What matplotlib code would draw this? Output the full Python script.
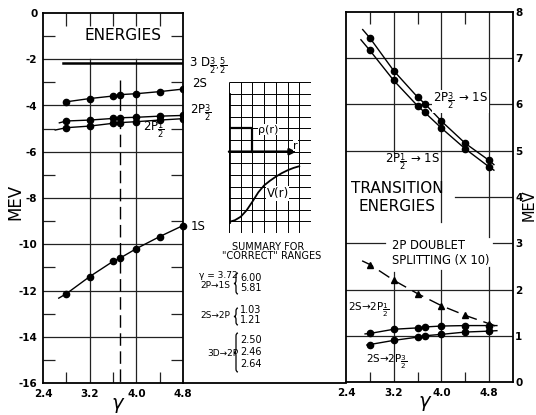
import matplotlib
matplotlib.use('Agg')
import matplotlib.pyplot as plt
from matplotlib.lines import Line2D
from matplotlib.path import Path
from matplotlib.patches import PathPatch
from matplotlib.transforms import Affine2D

W, H = 536, 415

# gamma values of the calculation
gamma = [2.8, 3.2, 3.6, 3.72, 4.0, 4.4, 4.8]
gamma_split = [2.8, 3.2, 3.6, 4.0, 4.4, 4.8]
gamma_c = 3.72

# level energies in MEV (left panel)
e_2s = [-3.84, -3.70, -3.59, -3.53, -3.49, -3.40, -3.29]
e_2p32 = [-4.67, -4.63, -4.56, -4.53, -4.51, -4.46, -4.43]
e_2p12 = [-4.96, -4.89, -4.77, -4.74, -4.70, -4.63, -4.57]
e_1s = [-12.14, -11.40, -10.74, -10.60, -10.19, -9.67, -9.19]
e_3d = -2.17
e_3d_span = [2.75, 4.8]
# start of the drawn curves (left of the first point)
lead_2p32 = (2.68, -4.75)
lead_2p12 = (2.61, -5.06)
lead_1s = (2.67, -12.33)

# transition energies in MEV (right panel)
t_2p32_1s = [7.44, 6.73, 6.16, 6.02, 5.64, 5.16, 4.79]
t_2p12_1s = [7.17, 6.52, 5.97, 5.83, 5.49, 5.04, 4.65]
t_2s_2p12 = [1.05, 1.14, 1.17, 1.19, 1.21, 1.22, 1.22]
t_2s_2p32 = [0.81, 0.90, 0.97, 1.00, 1.03, 1.08, 1.10]
split_x10 = [2.54, 2.20, 1.91, 1.65, 1.44, 1.26]
# curve ends (start, end)
ends_2p32_1s = [(2.68, 7.62), (4.88, 4.70)]
ends_2p12_1s = [(2.65, 7.40), (4.88, 4.58)]
ends_2s_2p12 = [(2.72, 1.04), (4.93, 1.22)]
ends_2s_2p32 = [(2.75, 0.80), (4.93, 1.11)]
ends_split = [(2.67, 2.62), (5.0, 1.17)]

# inset sketch (grid units)
rho_r = [0, 2, 2]
rho_v = [9, 9, 7]
v_r = [0, 0.5, 1.0, 1.5, 2.0, 2.5, 3.0, 3.5, 4.0, 4.5, 5.0, 5.5, 6.0]
v_v = [0.95, 1.1, 1.4, 1.95, 2.7, 3.5, 4.1, 4.5, 4.85, 5.15, 5.4, 5.6, 5.75]

# summary for "correct" ranges
summary_names = ['2P→1S', '2S→2P', '3D→2P']
summary_vals = [['6.00', '5.81'], ['1.03', '1.21'], ['2.50', '2.46', '2.64']]

GRID = dict(color='#222222', lw=0.9)


def box(x0, y0, x1, y1):
    return [x0 / W, 1 - y1 / H, (x1 - x0) / W, (y1 - y0) / H]


def ftext(x, y, s, **kw):
    kw.setdefault('va', 'center')
    return fig.text(x / W, 1 - y / H, s, **kw)


fig = plt.figure(figsize=(W / 100, H / 100), dpi=100)
px = Affine2D().scale(1 / W, -1 / H).translate(0, 1) + fig.transFigure


def brace(x, y0, y1, w=4.0):
    ym = (y0 + y1) / 2
    r = 3.0
    verts = [(x + w, y0), (x + w / 2, y0), (x + w / 2, y0 + r),
             (x + w / 2, ym - r),
             (x + w / 2, ym), (x, ym),
             (x + w / 2, ym), (x + w / 2, ym + r),
             (x + w / 2, y1 - r),
             (x + w / 2, y1), (x + w, y1)]
    codes = [Path.MOVETO, Path.CURVE3, Path.CURVE3, Path.LINETO,
             Path.CURVE3, Path.CURVE3, Path.CURVE3, Path.CURVE3,
             Path.LINETO, Path.CURVE3, Path.CURVE3]
    fig.add_artist(PathPatch(Path(verts, codes), transform=px,
                             facecolor='none', edgecolor='k', lw=0.9))


# ---------------- left panel: energies ----------------
ax1 = fig.add_axes(box(43, 13, 183, 383))
ax1.set_xlim(2.4, 4.8)
ax1.set_ylim(-16, 0)
for v in range(-14, 0, 2):
    ax1.plot([2.4, 4.8], [v, v], **GRID)
for g in [3.2, 4.0]:
    ax1.plot([g, g], [-2, -16], **GRID)
xt = ax1.get_xaxis_transform()
ax1.vlines([2.8, 3.2, 3.6, 4.0, 4.4], 1 - 13 / 370, 1, transform=xt, **GRID)
ax1.vlines([2.8, 3.6, 4.4], 0, 11 / 370, transform=xt, **GRID)
yt = ax1.get_yaxis_transform()
odd = list(range(-15, 0, 2))
ax1.hlines(odd, 0, 12 / 140, transform=yt, **GRID)
ax1.hlines(odd, 1 - 12 / 140, 1, transform=yt, **GRID)
ax1.plot([gamma_c, gamma_c], [-2.9, -16], color='k', lw=1.0, dashes=(9, 4))

ax1.plot(e_3d_span, [e_3d, e_3d], color='k', lw=1.8)
ax1.plot(gamma, e_2s, 'k-o', lw=1.0, ms=4.5)
ax1.plot([lead_2p32[0]] + gamma, [lead_2p32[1]] + e_2p32, 'k-', lw=1.0)
ax1.plot(gamma, e_2p32, 'ko', ms=4.5)
ax1.plot([lead_2p12[0]] + gamma, [lead_2p12[1]] + e_2p12, 'k-', lw=1.0)
ax1.plot(gamma, e_2p12, 'ko', ms=4.5)
ax1.plot([lead_1s[0]] + gamma, [lead_1s[1]] + e_1s, 'k-', lw=1.0)
ax1.plot(gamma, e_1s, 'ko', ms=4.5, clip_on=False)

ax1.set_xticks([2.4, 3.2, 4.0, 4.8])
ax1.set_xticklabels(['2.4', '3.2', '4.0', '4.8'])
ax1.set_yticks(range(-16, 1, 2))
ax1.set_yticklabels([str(v) for v in range(-16, 1, 2)])
ax1.tick_params(length=0, labelsize=7.5, pad=4)
for lab in ax1.get_xticklabels() + ax1.get_yticklabels():
    lab.set_fontweight('bold')
for sp in ax1.spines.values():
    sp.set_linewidth(1.3)

# ---------------- right panel: transition energies ----------------
ax2 = fig.add_axes(box(346, 12, 513, 382))
ax2.set_xlim(2.4, 5.2)
ax2.set_ylim(0, 8)
h_segments = [(7, 2.4, 5.2), (6, 2.4, 5.2), (5, 2.4, 5.2), (4, 4.23, 5.2),
              (3, 2.4, 3.05), (3, 4.87, 5.2), (2, 2.4, 5.2), (1, 2.4, 5.2)]
for v, a, b in h_segments:
    ax2.plot([a, b], [v, v], **GRID)
v_segments = [(3.2, 8, 4.95), (3.2, 2.38, 0), (4.0, 8, 3.46), (4.0, 2.42, 0),
              (4.8, 8, 3.14), (4.8, 2.49, 0)]
for g, a, b in v_segments:
    ax2.plot([g, g], [a, b], **GRID)
xt2 = ax2.get_xaxis_transform()
ax2.vlines([2.8, 3.6, 4.4], 1 - 12 / 370, 1, transform=xt2, **GRID)
ax2.vlines([2.8, 3.6, 4.4], 0, 10 / 370, transform=xt2, **GRID)


def curve(ax, xs, ys, ends, **kw):
    (x0, y0), (x1, y1) = ends
    ax.plot([x0] + xs + [x1], [y0] + ys + [y1], color='k', lw=1.0, **kw)


curve(ax2, gamma, t_2p32_1s, ends_2p32_1s)
curve(ax2, gamma, t_2p12_1s, ends_2p12_1s)
curve(ax2, gamma, t_2s_2p12, ends_2s_2p12)
curve(ax2, gamma, t_2s_2p32, ends_2s_2p32)
curve(ax2, gamma_split, split_x10, ends_split, dashes=(9, 5))
for ys in [t_2p32_1s, t_2p12_1s, t_2s_2p12, t_2s_2p32]:
    ax2.plot(gamma, ys, 'ko', ms=4.5)
ax2.plot(gamma_split, split_x10, 'k^', ms=4.5)

ax2.set_xticks([2.4, 3.2, 4.0, 4.8])
ax2.set_xticklabels(['2.4', '3.2', '4.0', '4.8'])
ax2.set_yticks(range(0, 9))
ax2.yaxis.tick_right()
ax2.tick_params(length=0, labelsize=7.5, pad=4)
ax2.tick_params(axis='y', pad=1.5)
for lab in ax2.get_xticklabels() + ax2.get_yticklabels():
    lab.set_fontweight('bold')
for sp in ax2.spines.values():
    sp.set_linewidth(1.3)

# bottom line joining the two panels
fig.add_artist(Line2D([183 / W, 346 / W], [1 - 383 / H, 1 - 383 / H],
                      color='k', lw=1.3))

# ---------------- inset sketch ----------------
ax3 = fig.add_axes(box(229, 82, 311, 233))
ax3.set_xlim(0, 7)
ax3.set_ylim(0, 13)
ax3.axis('off')
ax3.vlines(range(0, 8), 0, 13, color='k', lw=0.7)
ax3.hlines(range(0, 14), 0, 7, color='k', lw=0.7)
ax3.plot([0, 0], [0.95, 12], color='k', lw=2.0)
ax3.plot(rho_r, rho_v, color='k', lw=1.6)
ax3.annotate('', xy=(5.75, 7), xytext=(0, 7),
             arrowprops=dict(arrowstyle='-|>', color='k', lw=1.8,
                             mutation_scale=9, shrinkA=0, shrinkB=0))
ax3.plot(v_r, v_v, color='k', lw=1.3)
ax3.text(2.5, 8.9, 'ρ(r)', fontsize=8, va='center',
         bbox=dict(facecolor='white', edgecolor='none', pad=0.5))
ax3.text(5.5, 7.5, 'r', fontsize=8, va='center',
         bbox=dict(facecolor='white', edgecolor='none', pad=0.3))
ax3.text(3.2, 3.4, 'V(r)', fontsize=8.5, va='center',
         bbox=dict(facecolor='white', edgecolor='none', pad=0.5))

# ---------------- labels ----------------
WB = dict(facecolor='white', edgecolor='none', pad=1.0)
ftext(123, 35, 'ENERGIES', fontsize=11, ha='center')
ftext(189, 67, r'3 D$_{\dfrac{3}{2},\dfrac{5}{2}}$', fontsize=8.5, va='baseline')
ftext(192, 87, '2S', fontsize=8.5, va='baseline')
ftext(190, 114, r'2P$_{\dfrac{3}{2}}$', fontsize=8.5, va='baseline')
ftext(143, 131, r'2P$_{\dfrac{1}{2}}$', fontsize=8.5, va='baseline')
ftext(191, 230, '1S', fontsize=8.5, va='baseline')

ftext(433, 102, r'2P$_{\dfrac{3}{2}}$ → 1S', fontsize=8.5, va='baseline', bbox=WB)
ftext(385, 163, r'2P$_{\dfrac{1}{2}}$ → 1S', fontsize=8.5, va='baseline')
ftext(397, 188, 'TRANSITION', fontsize=11, ha='center')
ftext(397, 206, 'ENERGIES', fontsize=11, ha='center')
ftext(392, 245, '2P DOUBLET', fontsize=8.3)
ftext(392, 260, 'SPLITTING (X 10)', fontsize=8.3)
ftext(348, 311, r'2S→2P$_{\dfrac{1}{2}}$', fontsize=7.5, va='baseline')
ftext(366, 363, r'2S→2P$_{\dfrac{3}{2}}$', fontsize=7.5, va='baseline')

ftext(15, 202, 'MEV', fontsize=12, ha='center', rotation=90)
ftext(529, 205, 'MEV', fontsize=10.5, ha='center', rotation=90)
ftext(118, 405, r'$\gamma$', fontsize=14, ha='center')
ftext(425, 403, r'$\gamma$', fontsize=14, ha='center')

# summary block
ftext(268, 247, 'SUMMARY FOR', fontsize=7, ha='center')
ftext(272, 256, '"CORRECT" RANGES', fontsize=7, ha='center')
ftext(199, 275, 'γ = 3.72', fontsize=6.5)
row_y = [285, 315, 353]
brace_y = [(273, 294), (308, 325), (333, 372)]
val_y = [[278, 288], [310, 320], [340, 352, 364]]
for i, name in enumerate(summary_names):
    ftext(200 if i < 2 else 207, row_y[i], name, fontsize=6.5)
    brace(234, *brace_y[i])
    for v, yv in zip(summary_vals[i], val_y[i]):
        ftext(240, yv, v, fontsize=7)

fig.savefig('out.png', dpi=100)
